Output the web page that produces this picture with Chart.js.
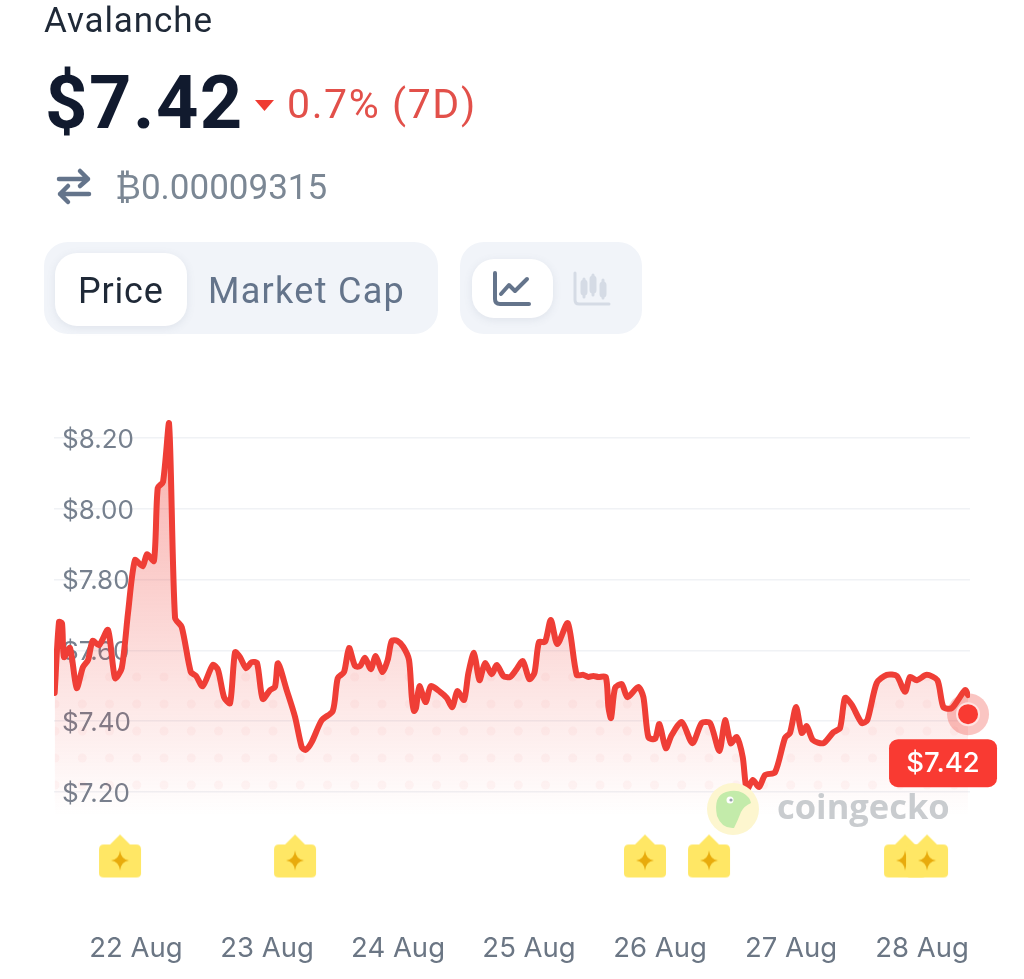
<!DOCTYPE html>
<html>
<head>
<meta charset="utf-8">
<title>Avalanche</title>
<script src="https://cdn.jsdelivr.net/npm/chart.js@4"></script>
<style>
  html, body { margin: 0; padding: 0; background: #fff; }
  #page { position: relative; width: 1024px; height: 979px; overflow: hidden; font-family: Roboto, sans-serif; }
  #page > * { position: absolute; }
  #chart { left: 0; top: 0; }
  .txt { white-space: nowrap; line-height: 1; }
  .box { background: #f1f4f9; border-radius: 24px; }
  .pill { background: #fff; border-radius: 22px; box-shadow: 0 2px 8px rgba(100,116,139,.12); }
</style>
</head>
<body>
<div id="page">
  <canvas id="chart" width="1024" height="979"></canvas>

  <div class="txt" style="left:44px;top:3px;font-size:35px;letter-spacing:0.9px;color:#1f2937;">Avalanche</div>
  <div class="txt" style="left:45px;top:66px;font-size:74px;font-weight:700;color:#111a2e;letter-spacing:1.5px;">$7.42</div>
  <svg style="left:254px;top:99px" width="22" height="13"><path d="M1 1 H20 L10.5 12 Z" fill="#ef3b32"/></svg>
  <div class="txt" style="left:287px;top:84px;font-size:41px;letter-spacing:1.6px;color:#e2504a;">0.7% (7D)</div>

  <svg style="left:55px;top:166px" width="38" height="40" fill="none" stroke="#64748b" stroke-width="4.5" stroke-linecap="round" stroke-linejoin="round">
    <path d="M4 13 H33 M25 5 L33 13 L25 20"/><path d="M34 28 H5 M13 20 L5 28 L13 36"/>
  </svg>
  <div class="txt" style="left:115px;top:170px;font-size:35px;color:#7b8794;">₿0.00009315</div>

  <div class="box" style="left:44px;top:242px;width:394px;height:92px;"></div>
  <div class="pill" style="left:55px;top:253px;width:132px;height:73px;"></div>
  <div class="txt" style="left:78px;top:273px;font-size:36px;letter-spacing:0.8px;color:#1f2937;">Price</div>
  <div class="txt" style="left:208px;top:273px;font-size:36px;letter-spacing:1.3px;color:#64748b;">Market Cap</div>

  <div class="box" style="left:460px;top:242px;width:182px;height:92px;"></div>
  <div class="pill" style="left:472px;top:259px;width:81px;height:59px;"></div>
  <svg style="left:491px;top:270px" width="42" height="38" fill="none" stroke="#64748b" stroke-width="4" stroke-linecap="round" stroke-linejoin="round">
    <path d="M4 3 V29 Q4 34 9 34 H38"/><path d="M10 24 L18 15 L24 21 L36 9"/>
  </svg>
  <svg style="left:571px;top:270px" width="42" height="38" fill="none" stroke="#d5dbe5" stroke-width="3" stroke-linecap="round">
    <path d="M4 3 V30 Q4 34 8 34 H38"/>
    <path d="M13 9 V27 M22 5 V25 M32 10 V28"/>
    <path d="M13 13 V22 M22 9 V20 M32 15 V24" stroke-width="7"/>
  </svg>

  <svg style="left:706px;top:782px" width="54" height="54">
    <circle cx="27" cy="27" r="26" fill="#fdf6cf"/>
    <path d="M11 34 Q7 14 20 10 Q30 7 37 11 Q44 15 45 21 Q38 24 35 30 Q32 38 28 46 Q16 47 11 34 Z" fill="#c3ebaa"/>
    <circle cx="24" cy="18" r="3.5" fill="#fff"/><circle cx="25" cy="18" r="1.6" fill="#9aa3ad"/>
  </svg>
  <div class="txt" style="left:777px;top:789px;font-size:34.5px;font-weight:700;font-family:'Open Sans',sans-serif;color:#c9cccf;">coingecko</div>
</div>

<script>
// days counted from 22 Aug 00:00
const days = [-0.621,-0.588,-0.565,-0.550,-0.504,-0.453,-0.405,-0.366,-0.331,-0.282,-0.214,-0.160,-0.109,-0.061,-0.008,
  0.051,0.084,0.137,0.166,0.206,0.252,0.298,0.349,0.418,0.458,0.509,0.586,0.626,0.672,0.718,0.756,0.794,0.840,0.883,0.924,0.967,
  1.023,1.061,1.084,1.150,1.214,1.265,1.295,1.341,1.418,1.502,1.540,1.588,1.626,1.672,1.710,1.748,1.792,1.830,1.880,1.921,1.952,1.995,
  2.040,2.084,2.105,2.122,2.137,2.163,2.211,2.250,2.321,2.372,2.415,2.453,2.504,2.537,2.580,2.621,2.664,2.715,2.754,2.804,2.855,2.901,2.952,
  3.002,3.041,3.076,3.122,3.166,3.216,3.296,3.364,3.415,3.453,3.491,3.529,3.586,3.606,3.626,3.657,3.708,3.751,3.834,3.873,3.911,3.962,3.995,
  4.044,4.089,4.166,4.247,4.318,4.382,4.453,4.496,4.540,4.586,4.631,4.662,4.708,4.756,4.802,4.878,4.954,4.992,
  5.038,5.082,5.120,5.166,5.247,5.323,5.374,5.412,5.464,5.540,5.582,5.654,5.731,5.807,5.870,5.908,5.960,
  6.036,6.117,6.163,6.227,6.328,6.351];
const prices = [7.480,7.680,7.677,7.581,7.607,7.494,7.553,7.573,7.627,7.615,7.658,7.522,7.550,7.706,7.855,
  7.838,7.872,7.853,8.059,8.076,8.242,7.692,7.666,7.539,7.528,7.499,7.559,7.545,7.468,7.451,7.595,7.581,7.550,7.567,7.564,7.463,
  7.488,7.497,7.564,7.488,7.412,7.327,7.319,7.341,7.403,7.429,7.522,7.539,7.607,7.556,7.556,7.579,7.547,7.584,7.539,7.573,7.627,7.627,
  7.610,7.573,7.468,7.429,7.437,7.499,7.454,7.499,7.483,7.466,7.440,7.485,7.460,7.536,7.593,7.516,7.564,7.533,7.559,7.528,7.525,7.545,7.570,
  7.519,7.536,7.624,7.624,7.686,7.618,7.677,7.531,7.531,7.525,7.528,7.525,7.525,7.440,7.409,7.494,7.505,7.468,7.497,7.468,7.355,7.350,7.392,
  7.324,7.361,7.398,7.338,7.395,7.395,7.316,7.403,7.338,7.355,7.299,7.206,7.234,7.214,7.248,7.256,7.353,7.367,
  7.440,7.367,7.386,7.347,7.338,7.369,7.381,7.466,7.446,7.395,7.403,7.508,7.531,7.528,7.483,7.525,7.516,
  7.531,7.516,7.440,7.437,7.488,7.474];
const flagDays = [-0.122,1.214,3.885,4.374,5.870,6.038];
const flagLevel = 7.018;
const lastDay = 6.351;
const lastPrice = 7.42;
const priceTicks = [7.2,7.4,7.6,7.8,8.0,8.2];
const dayTicks = [0,1,2,3,4,5,6];
const dateLabels = ['22 Aug','23 Aug','24 Aug','25 Aug','26 Aug','27 Aug','28 Aug'];

const red = '#ef3e36';

// yellow flag, drawn once and used as the point style
function makeFlag() {
  const c = document.createElement('canvas');
  c.width = 44; c.height = 46;
  const g = c.getContext('2d');
  g.fillStyle = '#ffe765';
  g.beginPath();
  g.moveTo(12, 11); g.lineTo(22, 1); g.lineTo(32, 11);
  g.lineTo(38, 11); g.quadraticCurveTo(43, 11, 43, 16);
  g.lineTo(43, 40); g.quadraticCurveTo(43, 44, 38, 44);
  g.lineTo(6, 44); g.quadraticCurveTo(1, 44, 1, 40);
  g.lineTo(1, 16); g.quadraticCurveTo(1, 11, 6, 11);
  g.closePath(); g.fill();
  g.fillStyle = '#e8ab0c';
  g.beginPath();
  g.moveTo(22, 17); g.quadraticCurveTo(23, 26, 31, 27);
  g.quadraticCurveTo(23, 28, 22, 37); g.quadraticCurveTo(21, 28, 13, 27);
  g.quadraticCurveTo(21, 26, 22, 17);
  g.fill();
  return c;
}

// faint dot rows under the line, used as a second fill
function makeDots() {
  const c = document.createElement('canvas');
  c.width = 1024; c.height = 979;
  const g = c.getContext('2d');
  g.fillStyle = 'rgba(225,60,60,0.045)';
  for (let y = 677; y < 790; y += 27) {
    for (let x = 55; x < 975; x += 27.25) {
      g.beginPath(); g.arc(x, y, 4.5, 0, Math.PI * 2); g.fill();
    }
  }
  return c;
}

const priceTag = {
  id: 'priceTag',
  afterDraw(chart) {
    const g = chart.ctx;
    const px = chart.scales.x.getPixelForValue(lastDay);
    const py = chart.scales.y.getPixelForValue(lastPrice);
    g.save();
    g.fillStyle = '#f93a32';
    g.beginPath();
    g.roundRect(px - 79, py + 25, 108, 48, 9);
    g.fill();
    g.fillStyle = '#fff';
    g.font = '500 27.5px Inter';
    g.textAlign = 'center';
    g.textBaseline = 'middle';
    g.fillText('$' + lastPrice.toFixed(2), px - 25, py + 50);
    g.restore();
  }
};

const ctx = document.getElementById('chart').getContext('2d');
const points = days.map((d, i) => ({ x: d, y: prices[i] }));

const fillGrad = ctx.createLinearGradient(0, 423, 0, 816);
fillGrad.addColorStop(0, 'rgba(239,62,54,0.42)');
fillGrad.addColorStop(1, 'rgba(239,62,54,0)');
const dotFill = ctx.createPattern(makeDots(), 'no-repeat');

new Chart(ctx, {
  type: 'scatter',
  data: {
    datasets: [
      { data: points, showLine: true, borderColor: red, borderWidth: 6, tension: 0.25, pointRadius: 0,
        borderJoinStyle: 'round', borderCapStyle: 'round', fill: 'start', backgroundColor: fillGrad, order: 3 },
      { data: points, showLine: true, borderWidth: 0, borderColor: 'transparent', tension: 0.25, pointRadius: 0,
        fill: 'start', backgroundColor: dotFill, order: 4 },
      { data: flagDays.map(d => ({ x: d, y: flagLevel })), pointStyle: makeFlag(), order: 2 },
      { data: [{ x: lastDay, y: lastPrice }], pointRadius: 21, backgroundColor: 'rgba(239,62,54,0.3)', borderWidth: 0, order: 1, clip: false },
      { data: [{ x: lastDay, y: lastPrice }], pointRadius: 11, backgroundColor: '#f93a32', borderColor: '#ffe3e1', borderWidth: 2, order: 0, clip: false }
    ]
  },
  plugins: [priceTag],
  options: {
    responsive: false,
    animation: false,
    events: [],
    layout: { padding: { left: 54, right: 54, top: 420, bottom: 0 } },
    plugins: { legend: { display: false }, tooltip: { enabled: false } },
    scales: {
      x: {
        type: 'linear', min: -0.626, max: 6.366,
        afterBuildTicks(s) { s.ticks = dayTicks.map(v => ({ value: v })); },
        afterFit(s) { s.height = 79; },
        grid: { display: false }, border: { display: false },
        ticks: { autoSkip: false, maxRotation: 0, padding: 24, color: '#6b7684', font: { family: 'Inter', size: 27.5 },
          callback: v => dateLabels[v] }
      },
      y: {
        min: 6.895, max: 8.251, z: 1,
        afterBuildTicks(s) { s.ticks = priceTicks.map(v => ({ value: v })); },
        afterFit(s) { s.width = 0; },
        grid: { color: '#f0f2f5', lineWidth: 1.5, drawTicks: false }, border: { display: false },
        ticks: { mirror: true, padding: 8, labelOffset: 2, color: '#76808e', font: { family: 'Inter', size: 26 },
          callback: v => '$' + v.toFixed(2) }
      }
    }
  }
});
</script>
</body>
</html>
